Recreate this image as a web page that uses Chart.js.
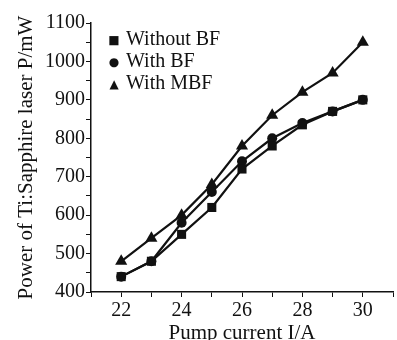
<!DOCTYPE html>
<html><head><meta charset="utf-8">
<script src="https://cdn.jsdelivr.net/npm/chart.js@4/dist/chart.umd.min.js"></script>
<style>
html,body{margin:0;padding:0;background:#fff;overflow:hidden;width:397px;height:340px;}
#wrap{position:relative;width:400px;height:340px;}
#legend{position:absolute;left:107px;top:27px;font-family:"Liberation Serif",serif;font-size:20px;color:#111;line-height:22px;}
#legend div{white-space:nowrap;height:22px;}
#legend span.m{display:inline-block;width:14px;font-family:"DejaVu Sans",sans-serif;font-size:12px;text-align:center;margin-right:5px;vertical-align:1px;}
</style></head>
<body><div id="wrap"><canvas id="c" width="400" height="340"></canvas><div id="legend"></div></div>
<script>
const current = [22, 23, 24, 25, 26, 27, 28, 29, 30];
const withoutBF = [440, 480, 550, 620, 720, 780, 835, 870, 900];
const withBF = [440, 480, 580, 660, 740, 800, 840, 870, 900];
const withMBF = [480, 540, 600, 680, 780, 860, 920, 970, 1050];
const seriesLabels = ["Without BF", "With BF", "With MBF"];
const xTickLabels = [22, 24, 26, 28, 30];
const yTickLabels = [400, 500, 600, 700, 800, 900, 1000, 1100];

const font = {family: "'Liberation Serif', serif", size: 20};
const titleFont = {family: "'Liberation Serif', serif", size: 21};
const mk = (arr) => arr.map((v, i) => ({x: current[i], y: v}));
const base = {borderColor: '#111', backgroundColor: '#111', borderWidth: 2.2, tension: 0, pointBorderWidth: 0, clip: false};
const ds = [
  Object.assign({label: seriesLabels[0], data: mk(withoutBF), pointStyle: 'rect', pointRadius: 6.4}, base),
  Object.assign({label: seriesLabels[1], data: mk(withBF), pointStyle: 'circle', pointRadius: 5}, base),
  Object.assign({label: seriesLabels[2], data: mk(withMBF), pointStyle: 'triangle', pointRadius: 7}, base)
];
new Chart(document.getElementById('c'), {
  type: 'line',
  data: {datasets: ds},
  options: {
    responsive: false, animation: false,
    layout: {padding: {top: 23, right: 0, left: 0, bottom: 0}},
    plugins: {legend: {display: false}, tooltip: {enabled: false}},
    scales: {
      x: {
        type: 'linear', min: 21, max: 31,
        afterFit: s => { s.height = 48; },
        afterBuildTicks: s => { s.ticks = []; for (let v = 21; v <= 31; v++) s.ticks.push({value: v}); },
        ticks: {color: '#111', font: font, padding: 2, maxRotation: 0, autoSkip: false,
          callback: v => xTickLabels.includes(v) ? String(v) : ''},
        grid: {drawOnChartArea: false, drawTicks: true, tickLength: 5, color: '#111', tickColor: '#111'},
        border: {display: true, color: '#111', width: 1.5},
        title: {display: true, text: 'Pump current I/A', color: '#111', font: titleFont, padding: {top: 0, bottom: -6}}
      },
      y: {
        type: 'linear', min: 400, max: 1100,
        afterFit: s => { s.width = 91; },
        afterBuildTicks: s => { s.ticks = []; for (let v = 400; v <= 1100; v += 50) s.ticks.push({value: v}); },
        ticks: {color: '#111', font: font, padding: 1, autoSkip: false,
          callback: v => yTickLabels.includes(v) ? String(v) : ''},
        grid: {drawOnChartArea: false, drawTicks: true, tickLength: 5, color: '#111', tickColor: '#111'},
        border: {display: true, color: '#111', width: 1.5},
        title: {display: true, text: 'Power of Ti:Sapphire laser P/mW', color: '#111', font: titleFont, padding: {top: 14, bottom: 4}}
      }
    }
  }
});
const glyphs = ['■', '●', '▲'];
document.getElementById('legend').innerHTML = seriesLabels.map((l, i) =>
  '<div><span class="m">' + glyphs[i] + '</span>' + l + '</div>').join('');
</script></body></html>
